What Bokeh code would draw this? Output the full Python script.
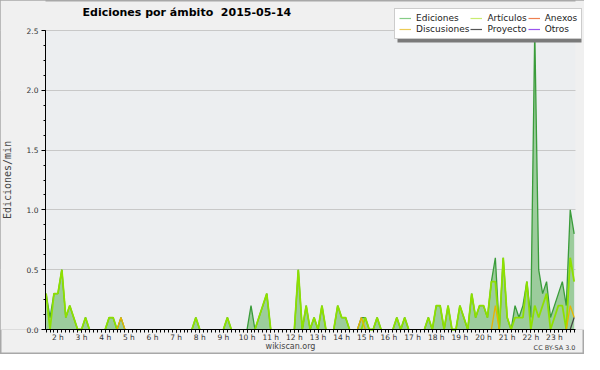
from bokeh.plotting import figure
from bokeh.models import (Range1d, FixedTicker, SingleIntervalTicker, ColumnDataSource,
                          Legend, LegendItem, Label, BoxAnnotation, NumeralTickFormatter)
from bokeh.embed import file_html
from bokeh.resources import INLINE

# ---------------- data (edits per minute, 10-minute bins from 01:30) ----------------
hour_ticks = list(range(2, 24))
hour_labels = {h: f"{h} h" for h in hour_ticks}

ediciones = [
    0.3, 0.1, 0.3, 0.3, 0.5, 0.1, 0.2, 0.1, 0.0, 0.0,
    0.1, 0.0, 0.0, 0.0, 0.0, 0.0, 0.1, 0.1, 0.0, 0.1,
    0.0, 0.0, 0.0, 0.0, 0.0, 0.0, 0.0, 0.0, 0.0, 0.0,
    0.0, 0.0, 0.0, 0.0, 0.0, 0.0, 0.0, 0.0, 0.1, 0.0,
    0.0, 0.0, 0.0, 0.0, 0.0, 0.0, 0.1, 0.0, 0.0, 0.0,
    0.0, 0.0, 0.2, 0.0, 0.1, 0.2, 0.3, 0.0, 0.0, 0.0,
    0.0, 0.0, 0.0, 0.0, 0.5, 0.0, 0.2, 0.0, 0.1, 0.0,
    0.2, 0.0, 0.0, 0.0, 0.2, 0.1, 0.1, 0.0, 0.0, 0.0,
    0.1, 0.1, 0.0, 0.0, 0.1, 0.0, 0.0, 0.0, 0.0, 0.1,
    0.0, 0.1, 0.0, 0.0, 0.0, 0.0, 0.0, 0.1, 0.0, 0.2,
    0.2, 0.0, 0.2, 0.0, 0.0, 0.2, 0.1, 0.0, 0.3, 0.1,
    0.2, 0.2, 0.1, 0.4, 0.6, 0.0, 0.6, 0.1, 0.0, 0.2,
    0.1, 0.2, 0.4, 0.1, 2.5, 0.5, 0.3, 0.4, 0.1, 0.2,
    0.3, 0.4, 0.2, 1.0, 0.8,
]
articulos = [
    0.3, 0.0, 0.3, 0.3, 0.5, 0.1, 0.2, 0.1, 0.0, 0.0,
    0.1, 0.0, 0.0, 0.0, 0.0, 0.0, 0.1, 0.1, 0.0, 0.0,
    0.0, 0.0, 0.0, 0.0, 0.0, 0.0, 0.0, 0.0, 0.0, 0.0,
    0.0, 0.0, 0.0, 0.0, 0.0, 0.0, 0.0, 0.0, 0.1, 0.0,
    0.0, 0.0, 0.0, 0.0, 0.0, 0.0, 0.1, 0.0, 0.0, 0.0,
    0.0, 0.0, 0.0, 0.0, 0.1, 0.2, 0.3, 0.0, 0.0, 0.0,
    0.0, 0.0, 0.0, 0.0, 0.5, 0.0, 0.2, 0.0, 0.1, 0.0,
    0.2, 0.0, 0.0, 0.0, 0.2, 0.1, 0.1, 0.0, 0.0, 0.0,
    0.0, 0.1, 0.0, 0.0, 0.1, 0.0, 0.0, 0.0, 0.0, 0.1,
    0.0, 0.1, 0.0, 0.0, 0.0, 0.0, 0.0, 0.1, 0.0, 0.2,
    0.2, 0.0, 0.2, 0.0, 0.0, 0.2, 0.1, 0.0, 0.3, 0.1,
    0.2, 0.2, 0.1, 0.4, 0.4, 0.0, 0.6, 0.1, 0.0, 0.1,
    0.1, 0.1, 0.4, 0.0, 0.2, 0.1, 0.2, 0.3, 0.0, 0.1,
    0.2, 0.2, 0.0, 0.6, 0.4,
]
discusiones = [
    0.0, 0.0, 0.0, 0.0, 0.0, 0.0, 0.0, 0.0, 0.0, 0.0,
    0.0, 0.0, 0.0, 0.0, 0.0, 0.0, 0.0, 0.0, 0.0, 0.1,
    0.0, 0.0, 0.0, 0.0, 0.0, 0.0, 0.0, 0.0, 0.0, 0.0,
    0.0, 0.0, 0.0, 0.0, 0.0, 0.0, 0.0, 0.0, 0.0, 0.0,
    0.0, 0.0, 0.0, 0.0, 0.0, 0.0, 0.0, 0.0, 0.0, 0.0,
    0.0, 0.0, 0.0, 0.0, 0.0, 0.0, 0.0, 0.0, 0.0, 0.0,
    0.0, 0.0, 0.0, 0.0, 0.0, 0.0, 0.0, 0.0, 0.0, 0.0,
    0.0, 0.0, 0.0, 0.0, 0.0, 0.0, 0.0, 0.0, 0.0, 0.0,
    0.1, 0.0, 0.0, 0.0, 0.0, 0.0, 0.0, 0.0, 0.0, 0.0,
    0.0, 0.0, 0.0, 0.0, 0.0, 0.0, 0.0, 0.0, 0.0, 0.0,
    0.0, 0.0, 0.0, 0.0, 0.0, 0.0, 0.0, 0.0, 0.0, 0.0,
    0.0, 0.0, 0.0, 0.0, 0.2, 0.0, 0.0, 0.0, 0.0, 0.0,
    0.0, 0.0, 0.0, 0.0, 0.0, 0.0, 0.0, 0.0, 0.0, 0.0,
    0.0, 0.0, 0.0, 0.2, 0.1,
]
proyecto = [
    0.0, 0.0, 0.0, 0.0, 0.0, 0.0, 0.0, 0.0, 0.0, 0.0,
    0.0, 0.0, 0.0, 0.0, 0.0, 0.0, 0.0, 0.0, 0.0, 0.0,
    0.0, 0.0, 0.0, 0.0, 0.0, 0.0, 0.0, 0.0, 0.0, 0.0,
    0.0, 0.0, 0.0, 0.0, 0.0, 0.0, 0.0, 0.0, 0.0, 0.0,
    0.0, 0.0, 0.0, 0.0, 0.0, 0.0, 0.0, 0.0, 0.0, 0.0,
    0.0, 0.0, 0.0, 0.0, 0.0, 0.0, 0.0, 0.0, 0.0, 0.0,
    0.0, 0.0, 0.0, 0.0, 0.0, 0.0, 0.0, 0.0, 0.0, 0.0,
    0.0, 0.0, 0.0, 0.0, 0.0, 0.0, 0.0, 0.0, 0.0, 0.0,
    0.0, 0.0, 0.0, 0.0, 0.0, 0.0, 0.0, 0.0, 0.0, 0.0,
    0.0, 0.0, 0.0, 0.0, 0.0, 0.0, 0.0, 0.0, 0.0, 0.0,
    0.0, 0.0, 0.0, 0.0, 0.0, 0.0, 0.0, 0.0, 0.0, 0.0,
    0.0, 0.0, 0.0, 0.0, 0.0, 0.0, 0.0, 0.0, 0.0, 0.0,
    0.0, 0.0, 0.0, 0.0, 0.0, 0.0, 0.0, 0.0, 0.0, 0.0,
    0.0, 0.0, 0.0, 0.0, 0.1,
]
# 10-minute bin start times, in hours (01:30 ... 23:50)
times = [1.5 + k / 6 for k in range(len(ediciones))]

series_names = ["Ediciones", "Discusiones", "Artículos", "Proyecto", "Anexos", "Otros"]
legend_colors = {"Ediciones": "#86cc86", "Artículos": "#c8ec70", "Anexos": "#ee8050",
                 "Discusiones": "#eccb55", "Proyecto": "#555555", "Otros": "#9a55ee"}

FONT = "DejaVu Sans"
X0, X1 = 1.475, 23.89      # extent of the time axis
Y1 = 2.5                   # top of the value axis
OUTER = "#f0f0f0"
INNER = "#eceef0"


def hide_flat_zeros(vals):
    """Leave out line segments that run along the zero baseline (hidden by the axis)."""
    n = len(vals)
    out = []
    for i, v in enumerate(vals):
        prev0 = i == 0 or vals[i - 1] == 0
        next0 = i == n - 1 or vals[i + 1] == 0
        out.append(float("nan") if (v == 0 and prev0 and next0) else v)
    return out


src = ColumnDataSource(dict(x=times, total=ediciones,
                            total_l=hide_flat_zeros(ediciones),
                            art_l=hide_flat_zeros(articulos),
                            disc_l=hide_flat_zeros(discusiones),
                            proy_l=hide_flat_zeros(proyecto)))

p = figure(width=584, height=354, output_backend="svg", toolbar_location=None,
           x_range=Range1d(-0.4282, 24.2706), y_range=Range1d(-0.20903, 2.75084),
           min_border_left=0, min_border_right=0, min_border_top=0, min_border_bottom=0)
p.title.visible = False
p.border_fill_color = OUTER
p.background_fill_color = OUTER
p.outline_line_color = "#a8a8a8"
p.outline_line_width = 2

# plot-area background
p.add_layout(BoxAnnotation(left=X0, right=X1, bottom=0, top=Y1, fill_color=INNER,
                           fill_alpha=1, line_color=None, level="image"))

# grid
p.xgrid.visible = False
p.ygrid.ticker = SingleIntervalTicker(interval=0.5)
p.ygrid.bounds = (0, Y1)
p.ygrid.grid_line_color = "#c8c8c8"
p.ygrid.grid_line_width = 1
# keep grid lines inside the time axis extent
p.add_layout(BoxAnnotation(left=X1, bottom=0, fill_color=OUTER, fill_alpha=1,
                           line_color=None, level="underlay"))
p.add_layout(BoxAnnotation(right=X0, bottom=0, fill_color=OUTER, fill_alpha=1,
                           line_color=None, level="underlay"))

# axes (drawn at fixed data locations)
xa = p.xaxis[0]
xa.fixed_location = 0
xa.bounds = (X0, X1)
xa.ticker = FixedTicker(ticks=hour_ticks, minor_ticks=times)
xa.major_label_overrides = hour_labels
xa.major_tick_out = 3
xa.major_tick_in = 0
xa.minor_tick_out = 3
xa.minor_tick_in = 0
xa.major_label_standoff = 0
xa.major_label_text_font = FONT
xa.major_label_text_font_size = "7.5px"
xa.major_label_text_color = "#333333"
xa.axis_line_color = "black"

ya = p.yaxis[0]
ya.fixed_location = X0
ya.bounds = (0, Y1)
ya.ticker = SingleIntervalTicker(interval=0.5, num_minor_ticks=4)
ya.formatter = NumeralTickFormatter(format="0.0")
ya.major_tick_out = 4
ya.major_tick_in = 0
ya.minor_tick_out = 2
ya.minor_tick_in = 0
ya.major_label_standoff = 3
ya.major_label_text_font = FONT
ya.major_label_text_font_size = "7.5px"
ya.major_label_text_color = "#333333"
ya.axis_label = "Ediciones/min"
ya.axis_label_text_font = "DejaVu Sans Mono"
ya.axis_label_text_font_size = "10px"
ya.axis_label_text_font_style = "normal"
ya.axis_label_standoff = 11

# data
p.varea(x="x", y1=0, y2="total", source=src, fill_color="#9ccc9c", fill_alpha=1)
p.line(x="x", y="total_l", source=src, line_color="#3a9c3a", line_width=1.3)
p.line(x="x", y="art_l", source=src, line_color="#8ee000", line_width=1.8)
p.line(x="x", y="disc_l", source=src, line_color="#e8b400", line_width=1.3)
p.line(x="x", y="proy_l", source=src, line_color="#404040", line_width=1.2)

# legend (dedicated legend-only renderers, nothing drawn in the plot)
items = []
for name in series_names:
    r = p.line(x=[X0, X0], y=[float("nan"), float("nan")],
               line_color=legend_colors[name], line_width=1.2)
    items.append(LegendItem(label=name, renderers=[r]))

p.add_layout(BoxAnnotation(left=397, right=581, bottom=312, top=343,
                           left_units="screen", right_units="screen",
                           top_units="screen", bottom_units="screen",
                           fill_color="#7a7a7a", fill_alpha=1, line_color=None))

legend = Legend(items=items, location=(394, 315), ncols=3,
                label_text_font=FONT, label_text_font_size="9px", label_text_color="#222222",
                label_height=10, glyph_height=10, glyph_width=12, label_standoff=5,
                spacing=1, padding=4, margin=0,
                background_fill_color="white", background_fill_alpha=1,
                border_line_color="#999999", border_line_width=1)
p.add_layout(legend)

# texts
p.add_layout(Label(x=82, y=342, x_units="screen", y_units="screen",
                   text="Ediciones por ámbito \u00a02015-05-14", text_font=FONT,
                   text_font_style="bold", text_font_size="11px", text_color="black",
                   text_baseline="middle", text_align="left"))
p.add_layout(Label(x=290, y=8, x_units="screen", y_units="screen",
                   text="wikiscan.org", text_font=FONT, text_font_size="8px",
                   text_color="#444444", text_baseline="middle", text_align="center"))
p.add_layout(Label(x=575, y=7, x_units="screen", y_units="screen",
                   text="CC BY-SA 3.0", text_font=FONT, text_font_size="6.5px",
                   text_color="#444444", text_baseline="middle", text_align="right"))

open("out.html", "w").write(file_html(p, INLINE))
